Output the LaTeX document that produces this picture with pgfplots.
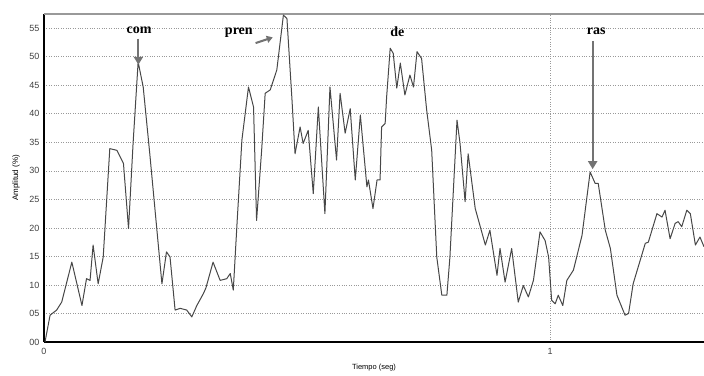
\documentclass[border=0pt]{standalone}
\usepackage{pgfplots}
\pgfplotsset{compat=1.18}
\usepackage{fontspec}
\setmainfont{Liberation Sans}
\newfontfamily\serifb{Liberation Serif}
\usetikzlibrary{arrows.meta}
\begin{document}
\begin{tikzpicture}
\begin{axis}[
  name=ax, at={(0,0)}, anchor=south west,
  scale only axis, width=660pt, height=328pt,
  xmin=0, xmax=1.304, ymin=0, ymax=57.5,
  axis x line=bottom, axis y line=left,
  axis line style={-, line width=2.4pt, black},
  xtick={0,1}, xticklabels={0,1},
  ytick={0,5,10,15,20,25,30,35,40,45,50,55},
  yticklabels={00,05,10,15,20,25,30,35,40,45,50,55},
  major tick length=0pt,
  tick label style={font=\fontsize{9}{10}\selectfont, text=black!75},
  /pgf/number format/assume math mode=true,
  ymajorgrids, xmajorgrids,
  grid style={dotted, black!40, line width=0.7pt},
  xticklabel style={yshift=-3pt},
  yticklabel style={xshift=-1pt},
  xlabel={Tiempo (seg)}, ylabel={Amplitud (\%)},
  every axis x label/.style={at={(rel axis cs:0.5,0)}, anchor=center, yshift=-26pt, font=\fontsize{7.5}{8}\selectfont},
  every axis y label/.style={at={(rel axis cs:0,0.5)}, anchor=center, xshift=-28pt, rotate=90, font=\fontsize{8}{9}\selectfont},
  clip=false,
]
\draw[black!40, line width=1.5pt] (rel axis cs:0,1) -- (rel axis cs:1,1);
\addplot[black!72, line width=1pt, line join=round] coordinates {
(0.002,0) (0.012,4.7) (0.025,5.6) (0.035,7.0) (0.055,14.0) (0.075,6.4) (0.084,11.1) (0.091,10.8) (0.097,17.0) (0.107,10.2) (0.117,14.9) (0.130,33.9) (0.144,33.6) (0.157,31.3) (0.167,19.9) (0.176,34.8) (0.186,49.1) (0.196,44.7) (0.209,33.0) (0.233,10.2) (0.242,15.8) (0.249,14.9) (0.259,5.6) (0.269,5.9) (0.282,5.6) (0.292,4.4) (0.302,6.4) (0.315,8.5) (0.320,9.5) (0.334,14.0) (0.348,10.8) (0.361,11.1) (0.368,12.0) (0.374,9.1) (0.381,20.2) (0.391,35.4) (0.404,44.7) (0.414,41.2) (0.420,21.3) (0.430,33.6) (0.437,43.6) (0.447,44.2) (0.460,47.7) (0.473,57.3) (0.480,56.7) (0.490,42.4) (0.496,33.0) (0.506,37.7) (0.512,34.8) (0.522,37.1) (0.532,26.0) (0.542,41.2) (0.555,22.5) (0.565,44.7) (0.578,31.9) (0.585,43.6) (0.595,36.6) (0.605,40.9) (0.615,28.4) (0.625,39.8) (0.638,27.2) (0.641,28.4) (0.650,23.4) (0.658,28.4) (0.664,28.4) (0.667,37.7) (0.674,38.3) (0.677,43.0) (0.684,51.5) (0.690,50.6) (0.697,44.5) (0.704,48.9) (0.713,43.3) (0.723,46.8) (0.730,44.7) (0.737,50.9) (0.746,49.7) (0.756,40.7) (0.766,33.6) (0.776,14.9) (0.786,8.2) (0.796,8.2) (0.802,14.9) (0.816,38.9) (0.822,34.8) (0.832,24.6) (0.838,33.0) (0.852,23.4) (0.872,17.0) (0.881,19.6) (0.895,11.7) (0.901,16.4) (0.911,10.5) (0.924,16.4) (0.937,7.0) (0.947,9.9) (0.957,7.9) (0.967,10.8) (0.980,19.3) (0.990,17.8) (0.997,14.9) (1.003,7.3) (1.010,6.7) (1.016,8.2) (1.025,6.4) (1.033,10.8) (1.046,12.6) (1.063,18.7) (1.079,29.8) (1.089,27.8) (1.095,27.8) (1.109,19.6) (1.119,16.4) (1.132,8.2) (1.148,4.7) (1.155,5.0) (1.164,10.2) (1.188,17.3) (1.194,17.5) (1.211,22.5) (1.221,21.9) (1.227,23.1) (1.237,18.1) (1.247,20.8) (1.253,21.1) (1.260,20.2) (1.270,23.1) (1.277,22.5) (1.287,17.0) (1.296,18.4) (1.304,16.7)
};
\node[font=\serifb\bfseries\fontsize{14}{14}\selectfont] at (axis cs:0.188,54.6) {com};
\draw[black!55, line width=2pt, -{Triangle[length=8pt,width=9pt]}] (axis cs:0.1865,53.2) -- (axis cs:0.1865,48.6);
\node[font=\serifb\bfseries\fontsize{14}{14}\selectfont] at (axis cs:0.385,54.2) {pren};
\draw[black!55, line width=2pt, -{Triangle[length=6pt,width=7pt]}] (axis cs:0.418,52.4) -- (axis cs:0.452,53.4);
\node[font=\serifb\bfseries\fontsize{14}{14}\selectfont] at (axis cs:0.698,54.4) {de};
\node[font=\serifb\bfseries\fontsize{14}{14}\selectfont] at (axis cs:1.091,54.4) {ras};
\draw[black!55, line width=2pt, -{Triangle[length=8pt,width=9pt]}] (axis cs:1.084,52.8) -- (axis cs:1.084,30.3);
\end{axis}
\pgfresetboundingbox
\path ([shift={(-44pt,-33pt)}]ax.south west) rectangle ([shift={(0pt,14pt)}]ax.north east);
\end{tikzpicture}
\end{document}
